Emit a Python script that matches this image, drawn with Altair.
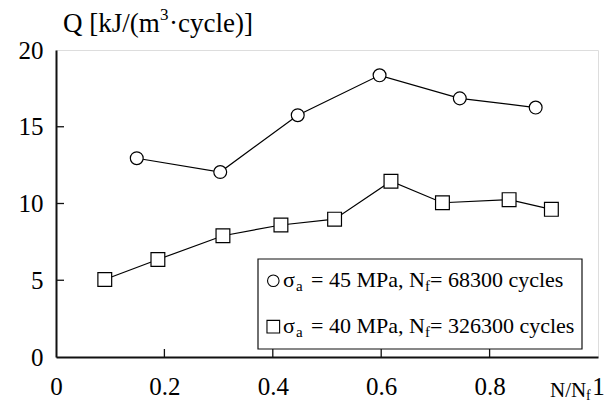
import altair as alt
import pandas as pd

# ---- data ----
s45_x = [0.149, 0.303, 0.446, 0.597, 0.745, 0.885]
s45_q = [12.95, 12.05, 15.75, 18.35, 16.85, 16.25]
s40_x = [0.090, 0.188, 0.308, 0.415, 0.514, 0.618, 0.713, 0.836, 0.914]
s40_q = [5.05, 6.35, 7.9, 8.6, 8.98, 11.45, 10.05, 10.25, 9.62]

x_ticks = [0, 0.2, 0.4, 0.6, 0.8, 1]
y_ticks = [0, 5, 10, 15, 20]
x_inner_ticks = [0.2, 0.4, 0.6, 0.8]
y_inner_ticks = [5, 10, 15]

FONT = "Liberation Serif"
W, H = 542, 307

s45 = pd.DataFrame({"x": s45_x, "q": s45_q})
s40 = pd.DataFrame({"x": s40_x, "q": s40_q})

xs = alt.Scale(domain=[0, 1], nice=False, zero=False)
ys = alt.Scale(domain=[0, 20], nice=False, zero=False)

xaxis = alt.Axis(values=x_ticks, format="~g", title=None, grid=False, ticks=False,
                 labelFont=FONT, labelFontSize=25, labelColor="black", labelPadding=17,
                 labelFlush=False, domainColor="#111", domainWidth=2)
yaxis = alt.Axis(values=y_ticks, format="~g", title=None, grid=False, ticks=False,
                 labelFont=FONT, labelFontSize=25, labelColor="black", labelPadding=13,
                 labelFlush=False, domainColor="#111", domainWidth=2)

base45 = alt.Chart(s45).encode(x=alt.X("x:Q", scale=xs, axis=xaxis),
                               y=alt.Y("q:Q", scale=ys, axis=yaxis))
base40 = alt.Chart(s40).encode(x=alt.X("x:Q", scale=xs), y=alt.Y("q:Q", scale=ys))

line45 = base45.mark_line(color="black", strokeWidth=1.2)
line40 = base40.mark_line(color="black", strokeWidth=1.2)
pt45 = base45.mark_point(shape="circle", size=165, fill="white", fillOpacity=1,
                         stroke="black", strokeWidth=1.2, opacity=1)
pt40 = base40.mark_point(shape="square", size=190, fill="white", fillOpacity=1,
                         stroke="black", strokeWidth=1.2, opacity=1)

# inward ticks
xt = alt.Chart(pd.DataFrame({"v": x_inner_ticks})).mark_rule(color="#111", strokeWidth=1.3).encode(
    x=alt.X("v:Q", scale=xs), y=alt.value(H), y2=alt.value(H - 8))
yt = alt.Chart(pd.DataFrame({"v": y_inner_ticks})).mark_rule(color="#111", strokeWidth=1.3).encode(
    y=alt.Y("v:Q", scale=ys), x=alt.value(0), x2=alt.value(8))

# legend box
legend_box = alt.Chart(pd.DataFrame({"a": [0]})).mark_rect(
    fill="white", stroke="#111", strokeWidth=1.2).encode(
    x=alt.value(202), x2=alt.value(526), y=alt.value(209), y2=alt.value(299))
leg_sym = alt.Chart(pd.DataFrame({"shape": ["circle", "square"],
                                  "px": [217.3, 217.3], "py": [230.7, 276.7],
                                  "sz": [133, 160]})).mark_point(
    fill="white", fillOpacity=1, stroke="black", strokeWidth=1.1, opacity=1).encode(
    x=alt.X("px:Q", scale=None), y=alt.Y("py:Q", scale=None),
    shape=alt.Shape("shape:N", scale=None), size=alt.Size("sz:Q", scale=None))

# text pieces (text, x px, baseline y px, font size)
leg_text = ["σ", "a", "= 45 MPa, N", "f", "= 68300 cycles",
            "σ", "a", "= 40 MPa, N", "f", "= 326300 cycles"]
leg_px = [227, 240, 255, 369, 374, 227, 240, 255, 369, 374]
leg_py = [237, 241, 237, 241, 237, 283, 287, 283, 287, 283]
leg_fs = [22, 15, 22, 15, 22, 22, 15, 22, 15, 22]

title_text = ["Q [kJ/(m", "3", "·cycle)]", "N/N", "f"]
title_px = [7, 104, 113, 494, 530]
title_py = [-18, -30, -18, 347, 350]
title_fs = [27, 17, 27, 21, 14]

texts = pd.DataFrame({"t": leg_text + title_text,
                      "px": leg_px + title_px,
                      "py": leg_py + title_py,
                      "fs": leg_fs + title_fs})
text_layer = alt.Chart(texts).mark_text(font=FONT, align="left", baseline="alphabetic",
                                        color="black").encode(
    x=alt.X("px:Q", scale=None), y=alt.Y("py:Q", scale=None),
    text="t:N", size=alt.Size("fs:Q", scale=None))

chart = alt.layer(line45, line40, pt45, pt40, xt, yt, legend_box, leg_sym, text_layer).properties(
    width=W, height=H,
    autosize=alt.AutoSizeParams(type="none"),
    padding={"left": 56, "top": 50, "right": 14, "bottom": 48},
    background="white",
).configure_view(stroke="#222", strokeWidth=1.6).configure(font=FONT)

chart.save("out.html", embed_options={"renderer": "svg", "actions": False})
